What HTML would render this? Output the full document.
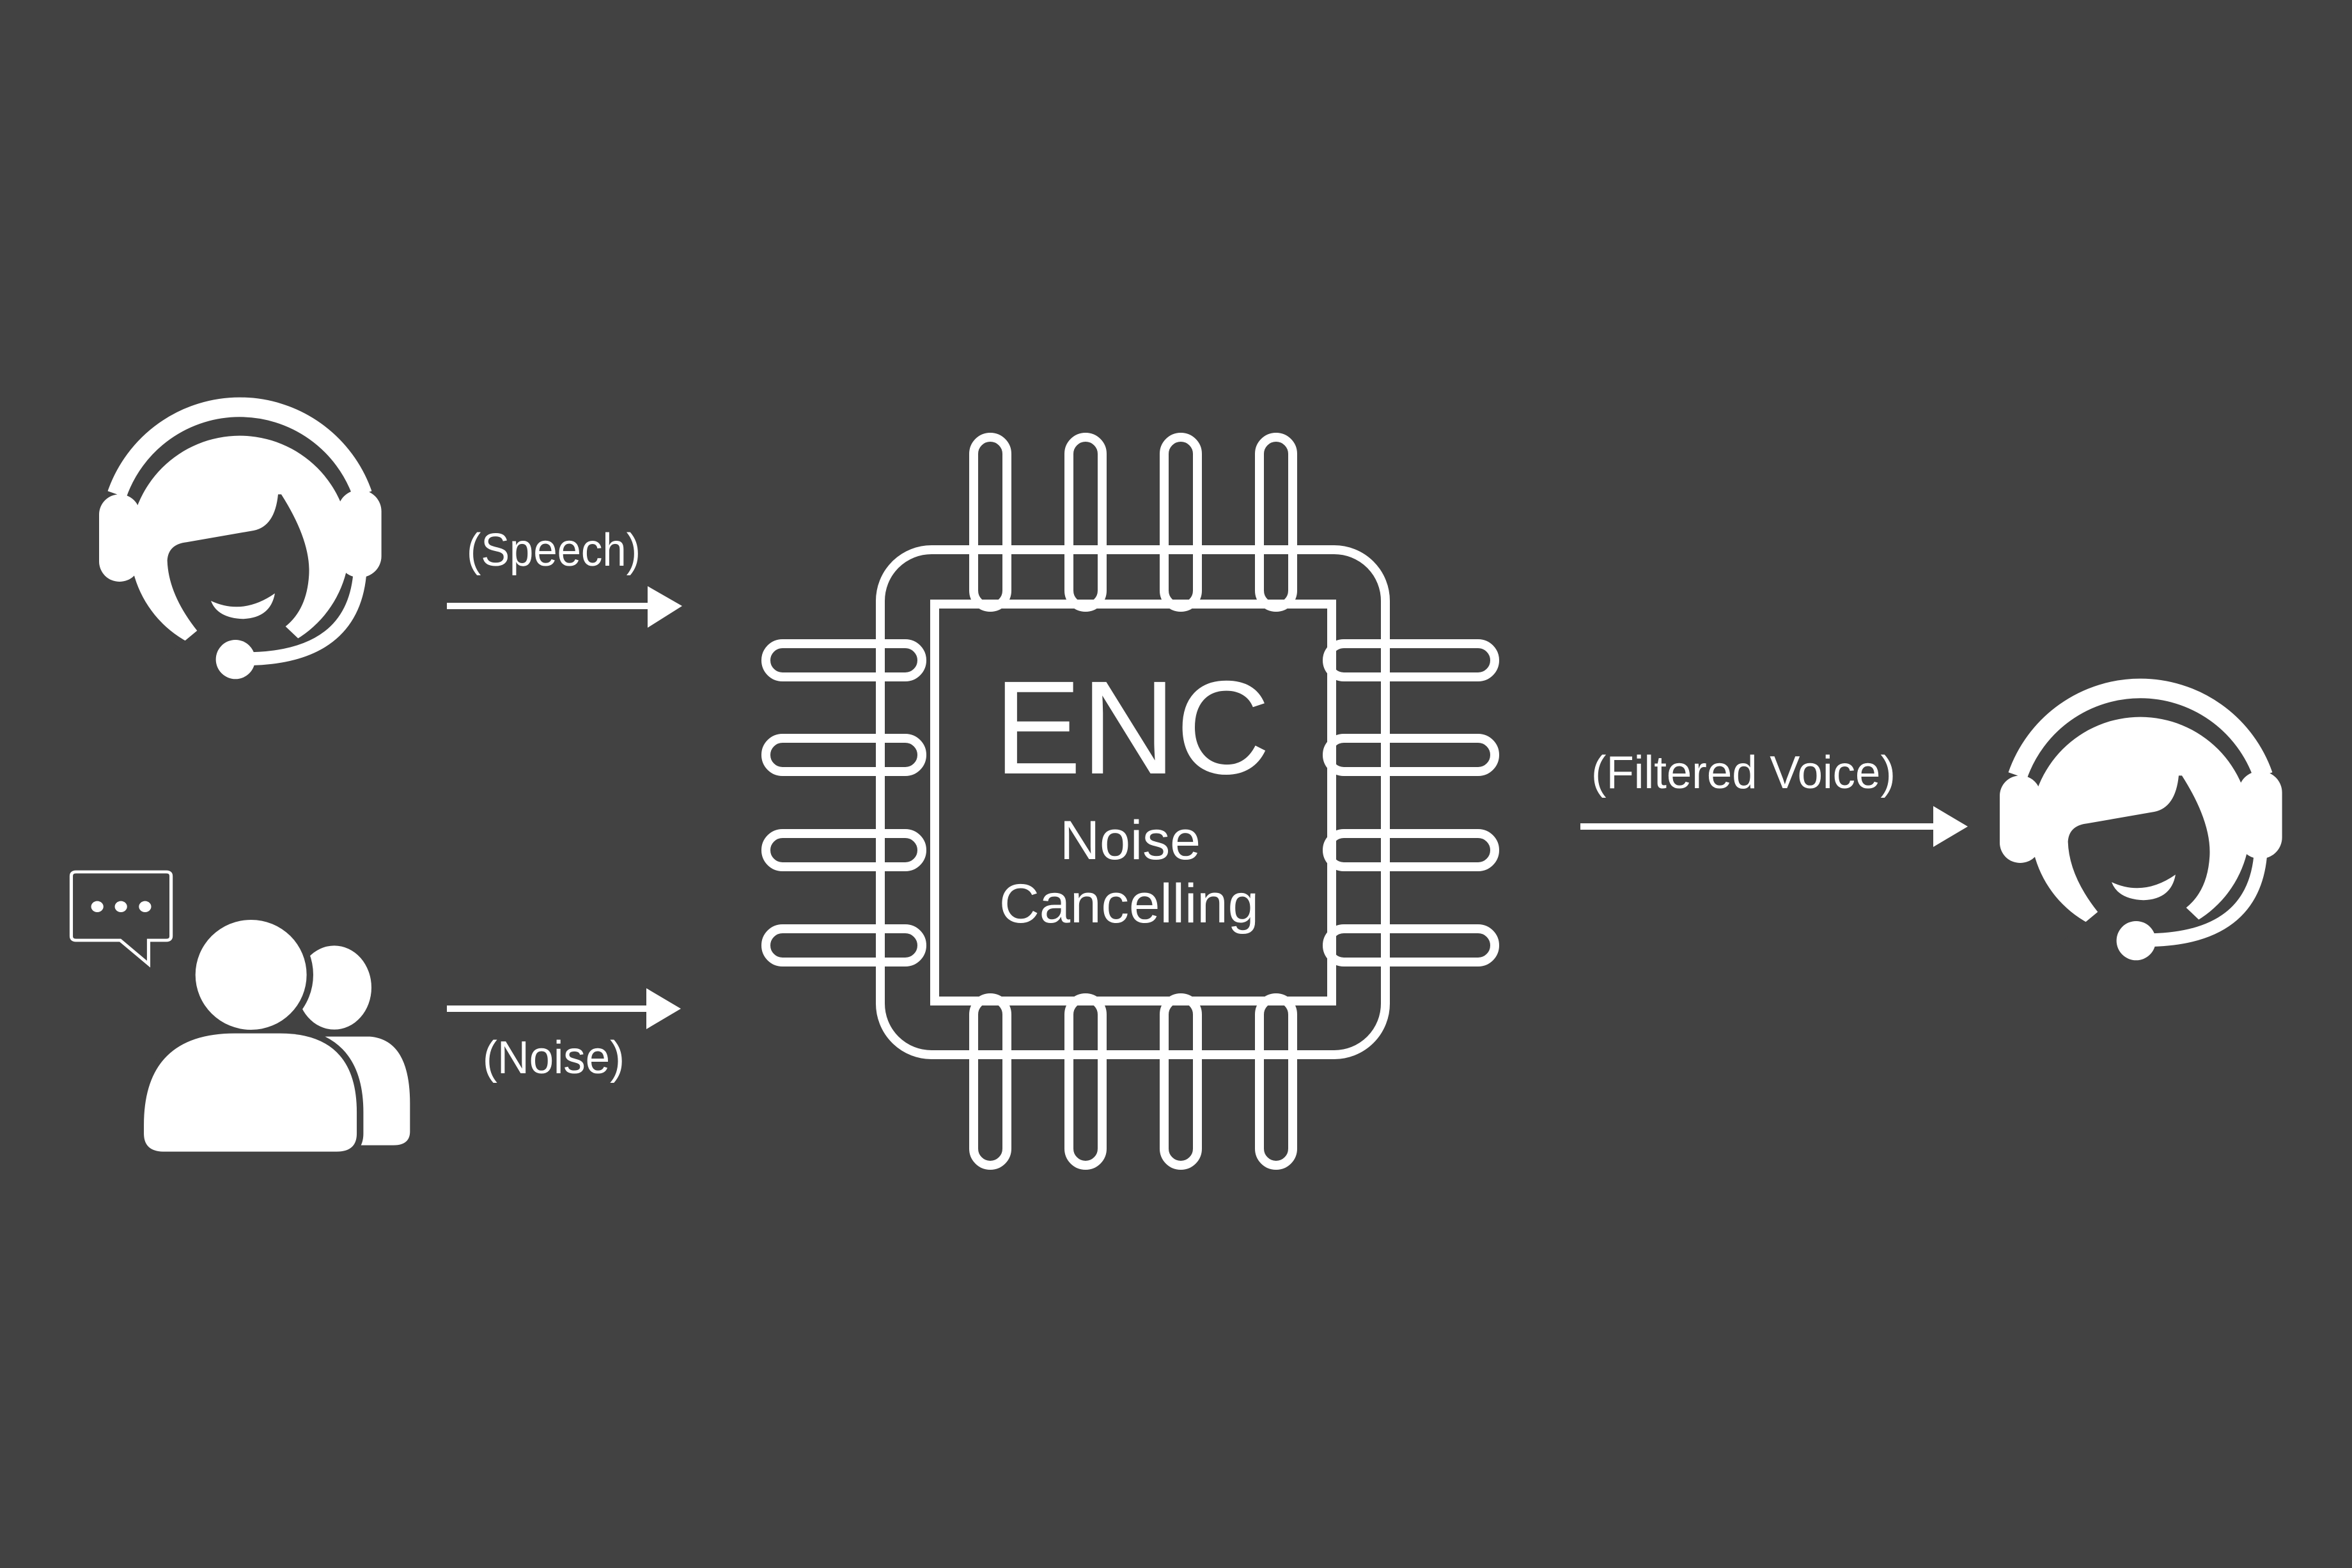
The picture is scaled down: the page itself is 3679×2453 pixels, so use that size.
<!DOCTYPE html>
<html><head><meta charset="utf-8"><style>
html,body{margin:0;padding:0;background:#424242;}
svg{display:block;}
text{font-family:"Liberation Sans","DejaVu Sans",sans-serif;fill:#fff;}
</style></head><body>
<svg width="3679" height="2453" viewBox="0 0 3679 2453" xmlns="http://www.w3.org/2000/svg">
<rect width="3679" height="2453" fill="#424242"/>
<defs>
<g id="agent">
  <path d="M129,520 A610,610 0 0 1 1281,520" fill="none" stroke="#fff" stroke-width="92"/>
  <circle cx="705" cy="760" r="515" fill="#fff"/>
  <path d="M455,745 L770,690 Q870,670 885,520 L900,520 Q1040,740 1030,900 Q1020,1060 920,1140 L1120,1330 L300,1330 L505,1160 Q370,990 365,830 Q370,755 455,745 Z" fill="#424242"/>
  <rect x="45" y="520" width="192" height="410" rx="95" fill="#fff"/>
  <rect x="1165" y="500" width="205" height="410" rx="100" fill="#fff"/>
  <path d="M570,1020 Q720,1090 870,985 Q850,1100 720,1105 Q600,1100 570,1020 Z" fill="#fff"/>
  <path d="M1268,900 Q1230,1280 760,1292" fill="none" stroke="#fff" stroke-width="62"/>
  <circle cx="685" cy="1295" r="92" fill="#fff"/>
</g>
</defs>
<use href="#agent" transform="translate(140,600) scale(0.3333)"/>
<use href="#agent" transform="translate(3113,1040) scale(0.3333)"/>

<g transform="translate(90,1340) scale(0.37,0.3333)">
  <path d="M78,72 H460 Q480,72 480,92 V373 Q480,393 460,393 H385 V505 L265,393 H78 Q58,393 58,373 V92 Q58,72 78,72 Z" fill="none" stroke="#fff" stroke-width="14"/>
  <circle cx="168" cy="235" r="26" fill="#fff"/>
  <circle cx="268" cy="235" r="26" fill="#fff"/>
  <circle cx="370" cy="235" r="26" fill="#fff"/>
  <ellipse cx="1170" cy="615" rx="157" ry="197" fill="#fff"/>
  <path d="M1120,845 H1320 Q1490,860 1490,1160 V1290 Q1490,1355 1420,1355 H1200 V900 Z" fill="#fff"/>
  <g fill="#424242" stroke="#424242" stroke-width="56">
    <ellipse cx="818" cy="555" rx="235" ry="258"/>
    <path d="M365,1260 Q365,830 750,830 H940 Q1265,830 1265,1200 V1300 Q1265,1385 1180,1385 H450 Q365,1385 365,1300 Z"/>
  </g>
  <g fill="#fff">
    <ellipse cx="818" cy="555" rx="235" ry="258"/>
    <path d="M365,1260 Q365,830 750,830 H940 Q1265,830 1265,1200 V1300 Q1265,1385 1180,1385 H450 Q365,1385 365,1300 Z"/>
  </g>
</g>

<g fill="#fff">
  <rect x="699" y="943" width="320" height="10"/>
  <polygon points="1013,917 1067,948 1013,982"/>
  <rect x="699" y="1573" width="318" height="10"/>
  <polygon points="1011,1546 1065,1578 1011,1610"/>
  <rect x="2472" y="1288" width="560" height="10"/>
  <polygon points="3024,1261 3078,1293 3024,1325"/>
</g>
<text x="730" y="885" font-size="72" textLength="272" lengthAdjust="spacingAndGlyphs">(Speech)</text>
<text x="755" y="1679" font-size="72" textLength="222" lengthAdjust="spacingAndGlyphs">(Noise)</text>
<text x="2489" y="1233" font-size="72" textLength="476" lengthAdjust="spacingAndGlyphs">(Filtered Voice)</text>

<g fill="none" stroke="#fff" stroke-width="14">
  <rect x="1377" y="860" width="790" height="790" rx="80"/>
  <rect x="1523" y="684" width="52" height="266" rx="26"/>
  <rect x="1672" y="684" width="52" height="266" rx="26"/>
  <rect x="1821" y="684" width="52" height="266" rx="26"/>
  <rect x="1970" y="684" width="52" height="266" rx="26"/>
  <rect x="1523" y="1561" width="52" height="262" rx="26"/>
  <rect x="1672" y="1561" width="52" height="262" rx="26"/>
  <rect x="1821" y="1561" width="52" height="262" rx="26"/>
  <rect x="1970" y="1561" width="52" height="262" rx="26"/>
  <rect x="1198" y="1007" width="244" height="52" rx="26"/>
  <rect x="1198" y="1155" width="244" height="52" rx="26"/>
  <rect x="1198" y="1304" width="244" height="52" rx="26"/>
  <rect x="1198" y="1453" width="244" height="52" rx="26"/>
  <rect x="2076" y="1007" width="262" height="52" rx="26"/>
  <rect x="2076" y="1155" width="262" height="52" rx="26"/>
  <rect x="2076" y="1304" width="262" height="52" rx="26"/>
  <rect x="2076" y="1453" width="262" height="52" rx="26"/>
  <rect x="1462" y="945" width="621" height="621"/>
</g>
<text x="1555" y="1210" font-size="208" textLength="432" lengthAdjust="spacingAndGlyphs">ENC</text>
<text x="1658" y="1344" font-size="86" textLength="220" lengthAdjust="spacingAndGlyphs">Noise</text>
<text x="1563" y="1443" font-size="86" textLength="406" lengthAdjust="spacingAndGlyphs">Cancelling</text>
</svg>
</body></html>
